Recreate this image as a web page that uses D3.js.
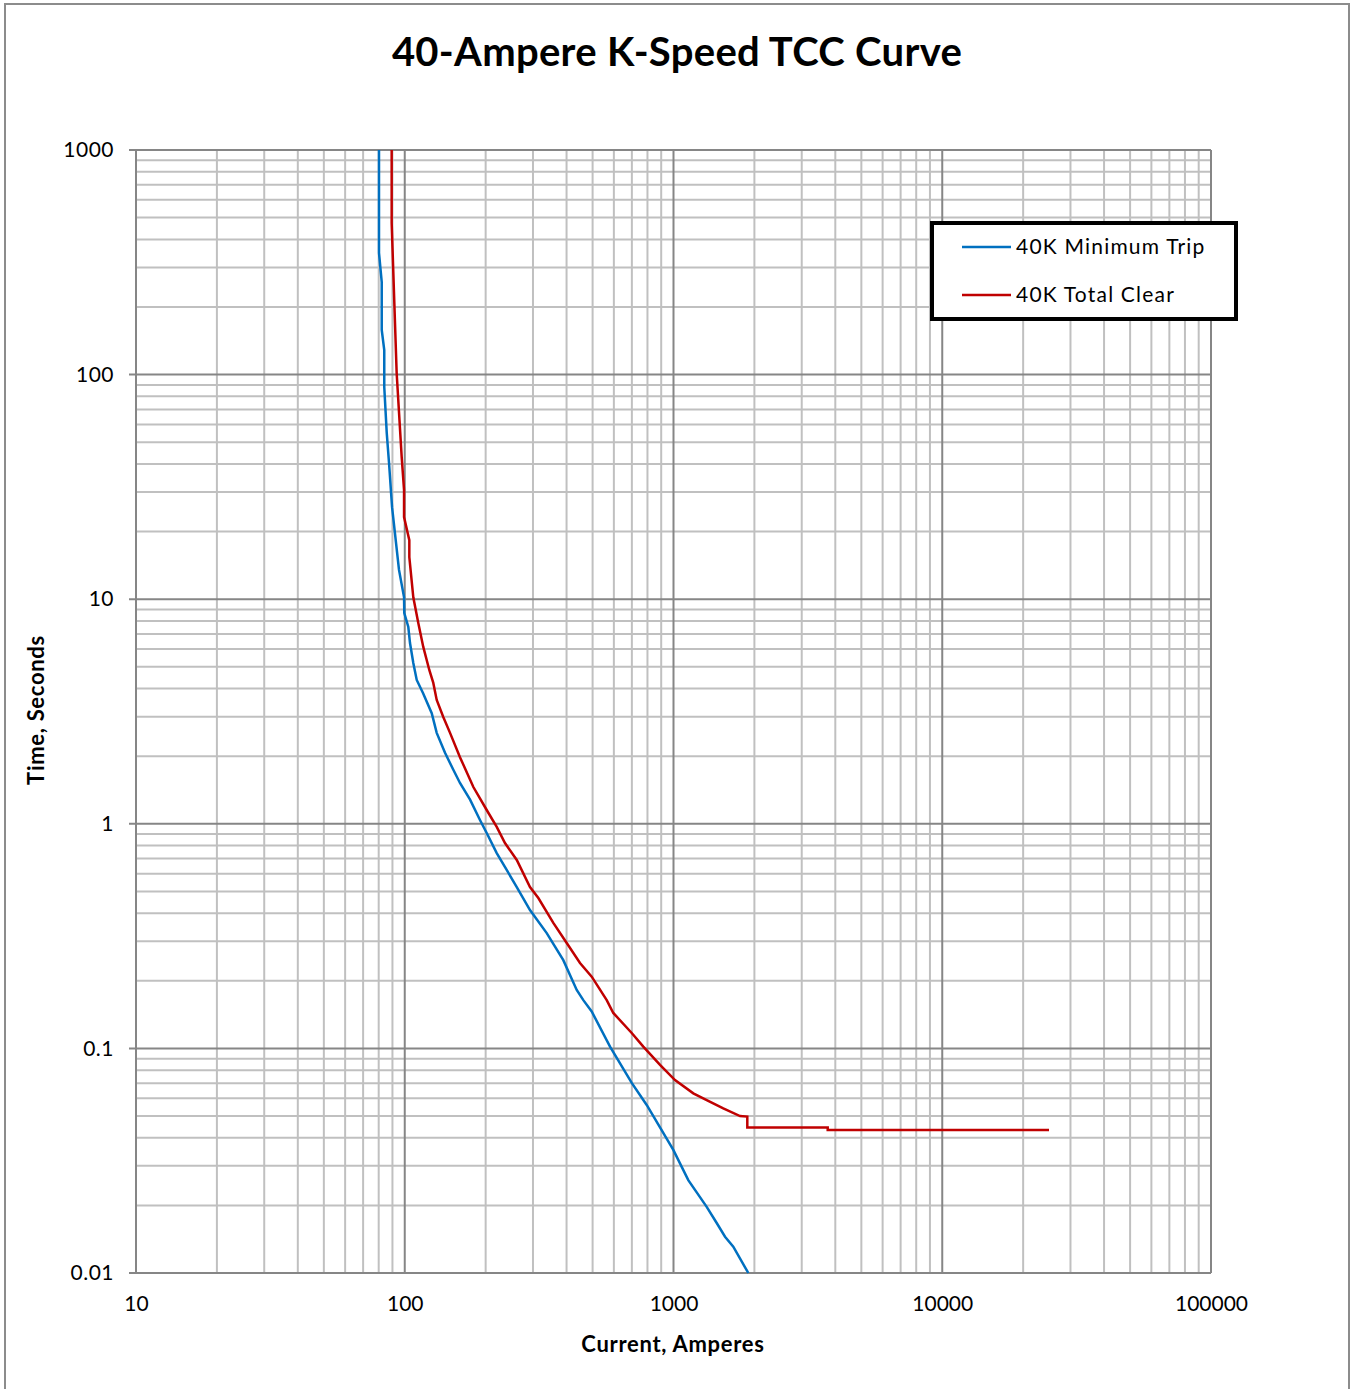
<!DOCTYPE html>
<html><head><meta charset="utf-8">
<script src="https://cdn.jsdelivr.net/npm/d3@7"></script>
<style>body{margin:0;background:#fff}svg{display:block}</style>
</head><body>
<svg id="c" width="1351" height="1389"></svg>
<script>
const title = "40-Ampere K-Speed TCC Curve";
const xTitle = "Current, Amperes";
const yTitle = "Time, Seconds";
const xTicks = [10, 100, 1000, 10000, 100000];
const xTickLabels = ["10", "100", "1000", "10000", "100000"];
const yTicks = [1000, 100, 10, 1, 0.1, 0.01];
const yTickLabels = ["1000", "100", "10", "1", "0.1", "0.01"];
const seriesNames = ["40K Minimum Trip", "40K Total Clear"];
const seriesColors = ["#0070c0", "#c00000"];

const minTripCurrent = [80.2,80.2,82.1,82.1,83.9,83.9,85.7,87.4,89.7,95.2,99.4,99.6,103.1,104.6,107.6,110.8,116.9,126.0,131.5,141.2,151.6,160.5,175.0,190.5,201.8,219.9,239.5,261.1,292.4,337.5,389.0,436.4,461.8,496.2,580.5,699.1,794.8,998.4,1135,1329,1448,1555,1669,1898];
const minTripTime = [1000,348,258,158,128.7,88.1,55.0,40.4,25.7,13.5,10.2,8.68,7.52,6.38,5.20,4.37,3.82,3.11,2.54,2.07,1.74,1.52,1.28,1.04,0.910,0.741,0.623,0.523,0.413,0.326,0.247,0.182,0.164,0.146,0.1018,0.0702,0.0560,0.0353,0.0259,0.0197,0.0167,0.0145,0.0131,0.0100];

const totalClearCurrent = [89.4,89.4,93.3,97.4,99.4,99.4,104.0,104.0,107.6,112.3,117.2,123.4,127.7,131.5,139.1,147.4,160.5,180.0,201.8,219.9,236.0,261.1,292.4,314.1,357.1,400.6,448.8,496.2,564.3,597.0,699.1,772.0,891.0,1013,1185,1329,1532,1768,1882,1882,3748,3748,24960];
const totalClearTime = [1000,473,101.6,43.0,30.6,23.2,18.3,15.4,10.2,7.83,6.13,4.84,4.24,3.56,2.99,2.54,1.98,1.458,1.152,0.968,0.821,0.690,0.523,0.467,0.362,0.2946,0.240,0.2086,0.164,0.1438,0.1171,0.1018,0.0844,0.0723,0.0631,0.0589,0.0541,0.0500,0.0497,0.0445,0.0445,0.0433,0.0433];

const svg = d3.select("#c");
const FONT = "Lato, 'Open Sans', sans-serif";
const L = 136, R = 1211, T = 150, B = 1273;
const x = d3.scaleLog().domain([10, 100000]).range([L, R]);
const y = d3.scaleLog().domain([0.01, 1000]).range([B, T]);

// outer frame
svg.append("rect").attr("x", 5).attr("y", 4).attr("width", 1344).attr("height", 1400)
  .attr("fill", "#fff").attr("stroke", "#8c8c8c").attr("stroke-width", 2);

// minor grid
const minorX = [], minorY = [];
for (let d = 10; d < 100000; d *= 10) for (let k = 2; k <= 9; k++) minorX.push(d * k);
for (let d = 0.01; d < 999; d *= 10) for (let k = 2; k <= 9; k++) minorY.push(+(d * k).toPrecision(3));
const g = svg.append("g");
g.selectAll(".mx").data(minorX).join("line")
  .attr("x1", d => x(d)).attr("x2", d => x(d)).attr("y1", T).attr("y2", B)
  .attr("stroke", "#c0c0c0").attr("stroke-width", 2);
g.selectAll(".my").data(minorY).join("line")
  .attr("y1", d => y(d)).attr("y2", d => y(d)).attr("x1", L).attr("x2", R)
  .attr("stroke", "#c0c0c0").attr("stroke-width", 2);
// major grid
g.selectAll(".Mx").data(xTicks).join("line")
  .attr("x1", d => x(d)).attr("x2", d => x(d)).attr("y1", T).attr("y2", B)
  .attr("stroke", "#868686").attr("stroke-width", 2);
g.selectAll(".My").data(yTicks).join("line")
  .attr("y1", d => y(d)).attr("y2", d => y(d)).attr("x1", L - 7).attr("x2", R)
  .attr("stroke", "#868686").attr("stroke-width", 2);

// axes labels
const xAxis = d3.axisBottom(x).tickValues(xTicks).tickFormat((d, i) => xTickLabels[i]).tickSize(0).tickPadding(23);
const xa = svg.append("g").attr("transform", `translate(0,${B})`).call(xAxis);
xa.select(".domain").remove();
xa.selectAll("text").attr("font-family", FONT).attr("font-size", 21).attr("fill", "#000");

const yAxis = d3.axisLeft(y).tickValues(yTicks).tickFormat((d, i) => yTickLabels[i]).tickSize(0).tickPadding(22);
const ya = svg.append("g").attr("transform", `translate(${L},0)`).call(yAxis);
ya.select(".domain").remove();
ya.selectAll("text").attr("font-family", FONT).attr("font-size", 21).attr("letter-spacing", 0.5).attr("fill", "#000");

// curves
const line = d3.line().x(d => x(d[0])).y(d => y(d[1]));
const s1 = minTripCurrent.map((c, i) => [c, minTripTime[i]]);
const s2 = totalClearCurrent.map((c, i) => [c, totalClearTime[i]]);
svg.append("path").datum(s1).attr("d", line).attr("fill", "none")
  .attr("stroke", seriesColors[0]).attr("stroke-width", 2.5);
svg.append("path").datum(s2).attr("d", line).attr("fill", "none")
  .attr("stroke", seriesColors[1]).attr("stroke-width", 2.5);

// titles
svg.append("text").attr("x", 677).attr("y", 66).attr("text-anchor", "middle")
  .attr("font-family", FONT).attr("font-weight", "bold").attr("font-size", 40)
  .attr("letter-spacing", 0.3).text(title);
svg.append("text").attr("x", 673).attr("y", 1352).attr("text-anchor", "middle")
  .attr("font-family", FONT).attr("font-weight", "bold").attr("font-size", 22)
  .attr("letter-spacing", 0.7).text(xTitle);
svg.append("text").attr("transform", "translate(44,710) rotate(-90)").attr("text-anchor", "middle")
  .attr("font-family", FONT).attr("font-weight", "bold").attr("font-size", 22)
  .attr("letter-spacing", 0.7).text(yTitle);

// legend
const lg = svg.append("g");
lg.append("rect").attr("x", 932).attr("y", 223).attr("width", 304).attr("height", 96)
  .attr("fill", "#fff").attr("stroke", "#000").attr("stroke-width", 4);
seriesNames.forEach((n, i) => {
  const yy = 247 + i * 48;
  lg.append("line").attr("x1", 962).attr("x2", 1011).attr("y1", yy).attr("y2", yy)
    .attr("stroke", seriesColors[i]).attr("stroke-width", 2.5);
  lg.append("text").attr("x", 1016).attr("y", yy + 7).attr("font-family", FONT)
    .attr("font-size", 21).attr("letter-spacing", 1.2).text(n);
});
</script>
</body></html>
